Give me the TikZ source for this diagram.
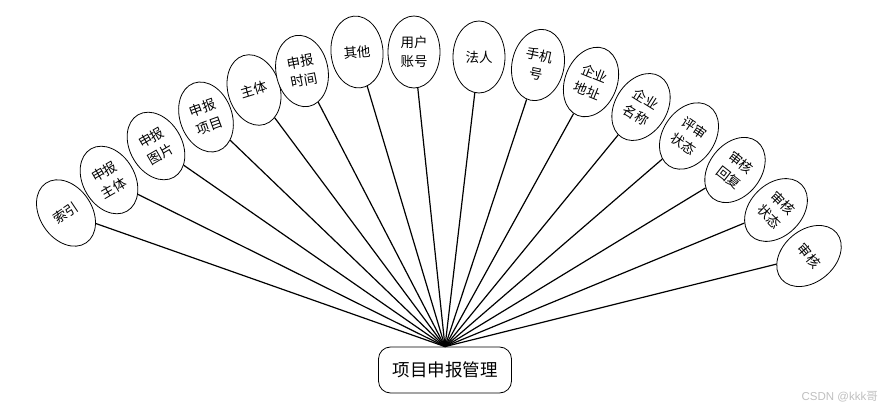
\documentclass[tikz,border=0pt]{standalone}
\usepackage{fontspec}
\newfontfamily\cjk{Noto Sans CJK SC}
\usetikzlibrary{shapes.geometric}
\begin{document}
\begin{tikzpicture}[x=1pt,y=-1pt,
  attr/.style={ellipse,draw=black,line width=0.8pt,fill=white,inner sep=0pt,
    minimum width=52pt,minimum height=72pt,align=center,
    font=\cjk\fontsize{13.5}{19}\selectfont},
  hubbox/.style={rectangle,rounded corners=12pt,draw=black,line width=0.8pt,
    minimum width=133pt,minimum height=46pt,font=\cjk\fontsize{17.5}{20}\selectfont},
  link/.style={line width=1.2pt,black}]
\useasboundingbox (0,0) rectangle (883,411);
\node[hubbox] (hub) at (445,370) {项目申报管理};
\node[attr,rotate=34] (a1) at (66,213) {索引};
\node[attr,rotate=30] (a2) at (109,180) {申报\\主体};
\node[attr,rotate=30] (a3) at (156,146) {申报\\图片};
\node[attr,rotate=20] (a4) at (206,117) {申报\\项目};
\node[attr,rotate=17] (a5) at (254,90) {主体};
\node[attr,rotate=11] (a6) at (302,71) {申报\\时间};
\node[attr,rotate=5] (a7) at (357,52) {其他};
\node[attr] (a8) at (414,52) {用户\\账号};
\node[attr] (a9) at (479,57) {法人};
\node[attr,rotate=-12] (a10) at (538,65) {手机\\号};
\node[attr,rotate=-22] (a11) at (591,82) {企业\\地址};
\node[attr,rotate=-32] (a12) at (641,107) {企业\\名称};
\node[attr,rotate=-34] (a13) at (689,136) {评审\\状态};
\node[attr,rotate=-38] (a14) at (735,170) {审核\\回复};
\node[attr,rotate=-45] (a15) at (776,210) {审核\\状态};
\node[attr,rotate=-50] (a16) at (809,256) {审核};
\foreach \i in {1,...,16} \draw[link] (hub.north) -- (a\i);
\node[font=\fontspec{Liberation Sans}\fontsize{11.5}{13}\selectfont,text=black!25,anchor=east,inner sep=0pt] (wm) at (878,397) {CSDN @kkk\cjk 哥};
\end{tikzpicture}
\end{document}
